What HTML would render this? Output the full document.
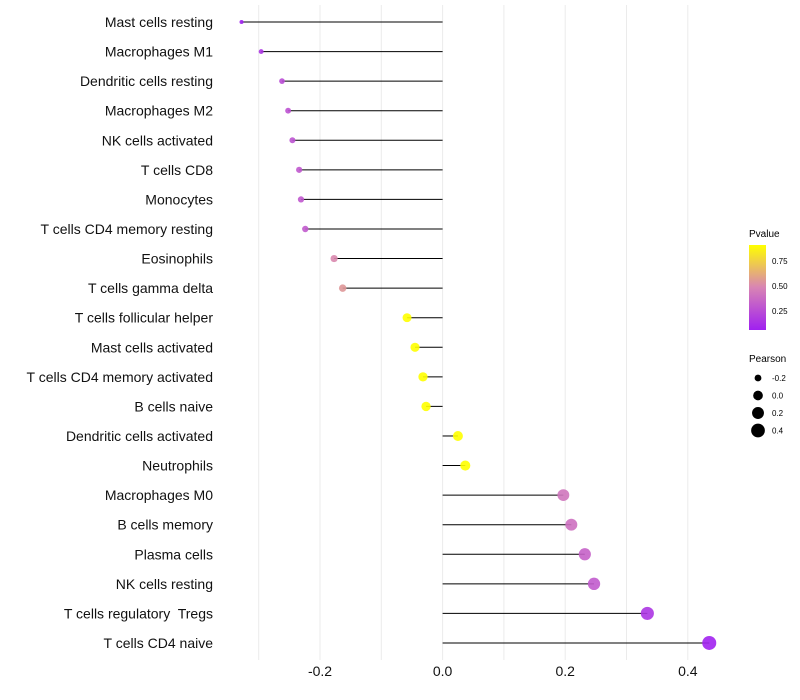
<!DOCTYPE html>
<html><head><meta charset="utf-8"><style>
body{margin:0;background:#fff}
svg{display:block;font-family:"Liberation Sans",sans-serif}
#ylab text{white-space:pre}
</style></head><body>
<svg id="chart" width="800" height="700">
<defs><linearGradient id="pg" x1="0" y1="1" x2="0" y2="0">
<stop offset="0" stop-color="#a020f0"/><stop offset="0.5" stop-color="#d884b4"/><stop offset="1" stop-color="#ffff00"/>
</linearGradient></defs>
<g id="grid"></g><g id="marks"></g><g id="ylab"></g><g id="xlab"></g>
<g>
<text x="749" y="237" font-size="10" fill="#000">Pvalue</text>
<rect x="749" y="245" width="17" height="85" fill="url(#pg)"/>
<text x="772" y="264" font-size="8">0.75</text>
<text x="772" y="289" font-size="8">0.50</text>
<text x="772" y="314" font-size="8">0.25</text>
<text x="749" y="362" font-size="10">Pearson</text>
<g id="sizeleg"></g>
</g>
</svg>
<script>
const categories=["Mast cells resting","Macrophages M1","Dendritic cells resting","Macrophages M2","NK cells activated","T cells CD8","Monocytes","T cells CD4 memory resting","Eosinophils","T cells gamma delta","T cells follicular helper","Mast cells activated","T cells CD4 memory activated","B cells naive","Dendritic cells activated","Neutrophils","Macrophages M0","B cells memory","Plasma cells","NK cells resting","T cells regulatory  Tregs","T cells CD4 naive"];
const pearson=[-0.328,-0.296,-0.262,-0.252,-0.245,-0.234,-0.231,-0.224,-0.177,-0.163,-0.058,-0.045,-0.032,-0.027,0.025,0.037,0.197,0.210,0.232,0.247,0.334,0.435];
const pvalue=[0.06,0.15,0.25,0.27,0.28,0.30,0.30,0.31,0.50,0.55,0.92,0.93,0.94,0.94,0.93,0.91,0.42,0.40,0.34,0.31,0.15,0.07];
const xTicks=[-0.2,0.0,0.2,0.4];
const xTickLabels=["-0.2","0.0","0.2","0.4"];
const gridVals=[-0.3,-0.2,-0.1,0,0.1,0.2,0.3,0.4];
const sizeLegendVals=[-0.2,0.0,0.2,0.4];
const sizeLegendLabels=["-0.2","0.0","0.2","0.4"];

const NS="http://www.w3.org/2000/svg";
const x=v=>442.6+v*613;
const y=i=>22+i*29.57;
const r=v=>Math.sqrt(Math.max(1,4+(v+0.33)*59));
const pMin=0.06,pMax=0.91;
function col(p){
  let t=Math.min(1,Math.max(0,(p-pMin)/(pMax-pMin)));
  const s=[[160,32,240],[216,132,180],[255,255,0]];
  let a,b,u;if(t<0.5){a=s[0];b=s[1];u=t/0.5}else{a=s[1];b=s[2];u=(t-0.5)/0.5}
  return `rgb(${a.map((c,k)=>Math.round(c+(b[k]-c)*u)).join(",")})`;
}
function mk(tag,attrs,parent){const e=document.createElementNS(NS,tag);for(const k in attrs)e.setAttribute(k,attrs[k]);parent.appendChild(e);return e;}
const grid=document.getElementById('grid'),marks=document.getElementById('marks'),ylab=document.getElementById('ylab'),xlab=document.getElementById('xlab'),sl=document.getElementById('sizeleg');
gridVals.forEach(v=>{const l=mk('line',{x1:x(v),x2:x(v),y1:5,y2:660,stroke:'#ebebeb','stroke-width':1},grid);

});
categories.forEach((c,i)=>{
  const l=mk('line',{x1:x(0),x2:x(pearson[i]),y1:y(i),y2:y(i),stroke:'#000','stroke-width':1},marks);
  
  
  const p=mk('circle',{cx:x(pearson[i]),cy:y(i),r:r(pearson[i]),fill:col(pvalue[i]),'fill-opacity':0.9},marks);
  
  
  const t=mk('text',{x:213,y:y(i)+5,'text-anchor':'end','font-size':14,fill:'#111'},ylab);
  t.textContent=c;
  
  
});
xTicks.forEach((v,i)=>{const t=mk('text',{x:x(v),y:676,'text-anchor':'middle','font-size':14,fill:'#111'},xlab);
t.textContent=xTickLabels[i];

});
sizeLegendVals.forEach((v,i)=>{const cy=378+i*17.5;
const c=mk('circle',{cx:758,cy:cy,r:r(v),fill:'#000'},sl);


const t=mk('text',{x:772,y:cy+3,'font-size':8},sl);t.textContent=sizeLegendLabels[i];

});
</script>
</body></html>
